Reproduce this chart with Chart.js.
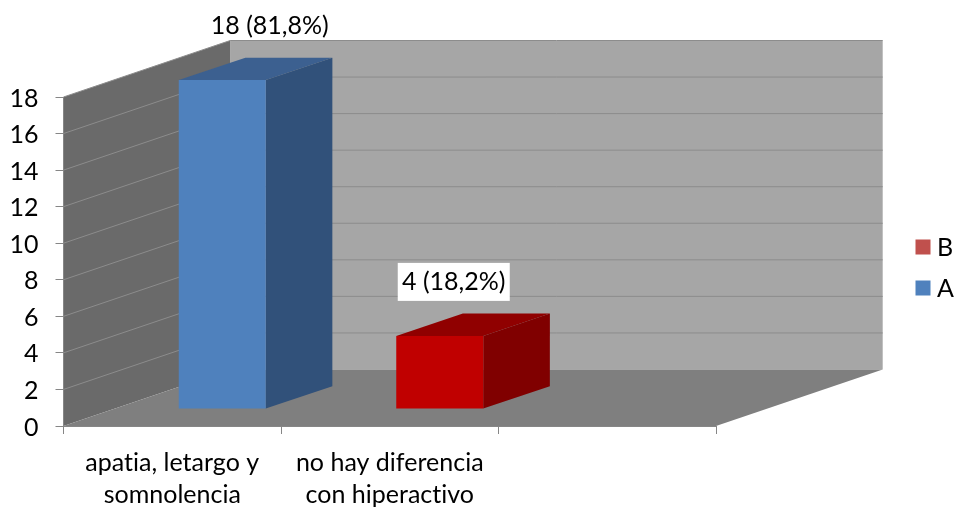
<!DOCTYPE html>
<html>
<head>
<meta charset="utf-8">
<script src="https://cdn.jsdelivr.net/npm/chart.js@4/dist/chart.umd.min.js"></script>
<style>
html, body { margin: 0; padding: 0; background: #fff; }
canvas { display: block; }
</style>
</head>
<body>
<canvas id="chart" width="958" height="508"></canvas>
<script>
const categories = [['apatia, letargo y', 'somnolencia'], ['no hay diferencia', 'con hiperactivo'], ''];
const seriesA = [18, null, null];
const seriesB = [null, 4, null];
const labelsA = ['18 (81,8%)', null, null];
const labelsB = [null, '4 (18,2%)', null];
const yTicks = [0, 2, 4, 6, 8, 10, 12, 14, 16, 18];

// oblique projection of the 3D look, in pixels
const wallDepth = { dx: 166.7, dy: -56.5 };
const barInset = { dx: 50, dy: -17 };
const barDepth = { dx: 66.6, dy: -22.3 };
const FONT = '25px Lato';

function poly(ctx, color, pts) {
    ctx.fillStyle = color;
    ctx.beginPath();
    pts.forEach((p, i) => i ? ctx.lineTo(p[0], p[1]) : ctx.moveTo(p[0], p[1]));
    ctx.closePath();
    ctx.fill();
}

function line(ctx, color, x1, y1, x2, y2) {
    ctx.strokeStyle = color;
    ctx.lineWidth = 1;
    ctx.beginPath();
    ctx.moveTo(x1, y1);
    ctx.lineTo(x2, y2);
    ctx.stroke();
}

const walls = {
    id: 'walls',
    beforeDraw(chart) {
        const { ctx, chartArea: a, scales } = chart;
        const d = wallDepth;
        // tiny spacing keeps Lato from joining "ti" into a ligature
        ctx.letterSpacing = '0.01px';
        // back wall, side wall, floor
        poly(ctx, '#a6a6a6', [[a.left + d.dx, a.top + d.dy], [a.right + d.dx, a.top + d.dy], [a.right + d.dx, a.bottom + d.dy], [a.left + d.dx, a.bottom + d.dy]]);
        poly(ctx, '#6a6a6a', [[a.left, a.top], [a.left + d.dx, a.top + d.dy], [a.left + d.dx, a.bottom + d.dy], [a.left, a.bottom]]);
        poly(ctx, '#7f7f7f', [[a.left, a.bottom], [a.left + d.dx, a.bottom + d.dy], [a.right + d.dx, a.bottom + d.dy], [a.right, a.bottom]]);
        yTicks.forEach(v => {
            if (v === 0) return;
            const y = scales.y.getPixelForValue(v);
            line(ctx, '#8c8c8c', a.left, y, a.left + d.dx, y + d.dy);
            line(ctx, '#8c8c8c', a.left + d.dx, y + d.dy, a.right + d.dx, y + d.dy);
        });
    }
};

const bars3d = {
    id: 'bars3d',
    beforeDatasetDraw(chart, args) {
        const ctx = chart.ctx;
        const ds = chart.data.datasets[args.index];
        const b = barDepth;
        ctx.save();
        ctx.translate(barInset.dx, barInset.dy);
        args.meta.data.forEach((bar, j) => {
            if (ds.data[j] == null) return;
            const left = bar.x - bar.width / 2;
            const right = bar.x + bar.width / 2;
            poly(ctx, ds.topColor, [[left, bar.y], [left + b.dx, bar.y + b.dy], [right + b.dx, bar.y + b.dy], [right, bar.y]]);
            poly(ctx, ds.sideColor, [[right, bar.y], [right + b.dx, bar.y + b.dy], [right + b.dx, bar.base + b.dy], [right, bar.base]]);
        });
    },
    afterDatasetDraw(chart) {
        chart.ctx.restore();
    },
    afterDatasetsDraw(chart) {
        const ctx = chart.ctx;
        ctx.font = FONT;
        ctx.textAlign = 'center';
        ctx.textBaseline = 'middle';
        chart.data.datasets.forEach((ds, i) => {
            chart.getDatasetMeta(i).data.forEach((bar, j) => {
                if (ds.data[j] == null || !ds.pointLabels[j]) return;
                const x = bar.x + barInset.dx + ds.labelShift;
                const y = bar.y + barInset.dy - 54;
                if (ds.labelBox) {
                    ctx.fillStyle = '#fff';
                    ctx.fillRect(x - 56, y - 19, 112, 38);
                }
                ctx.fillStyle = '#000';
                ctx.fillText(ds.pointLabels[j], x, y);
            });
        });
        // legend, last series on top
        ctx.textAlign = 'left';
        [...chart.data.datasets].reverse().forEach((ds, i) => {
            const top = 239.5 + i * 41;
            ctx.fillStyle = ds.legendColor;
            ctx.fillRect(915.5, top, 15, 15);
            ctx.fillStyle = '#000';
            ctx.fillText(ds.label, 937, top + 8);
        });
    }
};

new Chart(document.getElementById('chart'), {
    type: 'bar',
    data: {
        labels: categories,
        datasets: [
            {
                label: 'A',
                data: seriesA,
                pointLabels: labelsA,
                backgroundColor: '#4f81bd',
                topColor: '#3c6090',
                sideColor: '#31517a',
                legendColor: '#4f81bd',
                labelShift: 47.5,
                labelBox: false,
                clip: false
            },
            {
                label: 'B',
                data: seriesB,
                pointLabels: labelsB,
                backgroundColor: '#c00000',
                topColor: '#900000',
                sideColor: '#800000',
                legendColor: '#c0504d',
                labelShift: 14,
                labelBox: true,
                clip: false
            }
        ]
    },
    options: {
        responsive: false,
        animation: false,
        categoryPercentage: 1,
        barPercentage: 0.4,
        layout: { padding: { top: 97, right: 242 } },
        plugins: {
            legend: { display: false },
            tooltip: { enabled: false }
        },
        scales: {
            x: {
                stacked: true,
                afterFit: s => { s.height = 82; },
                border: { color: '#868686' },
                grid: { drawOnChartArea: false, tickLength: 8, color: '#868686' },
                ticks: { color: '#000', font: { family: 'Lato', size: 25, lineHeight: 1.28 }, padding: 13, maxRotation: 0, autoSkip: false }
            },
            y: {
                stacked: true,
                min: 0,
                max: 18,
                afterFit: s => { s.width = 63.5; },
                afterBuildTicks: s => { s.ticks = yTicks.map(v => ({ value: v })); },
                border: { color: '#868686' },
                grid: { drawOnChartArea: false, tickLength: 8, color: '#868686' },
                // empty first line with a small line height pushes the number down a bit
                ticks: { color: '#000', font: { family: 'Lato', size: 25, lineHeight: 0.12 }, padding: 17, callback: v => ['', String(v)] }
            }
        }
    },
    plugins: [walls, bars3d]
});
</script>
</body>
</html>
